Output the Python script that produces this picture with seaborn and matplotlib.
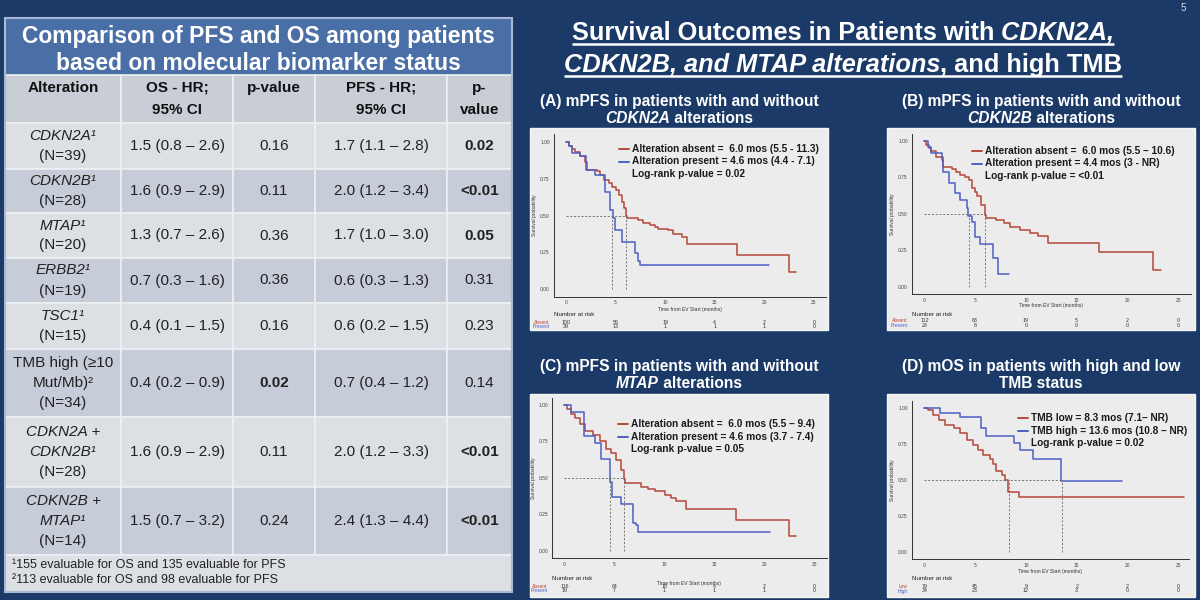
import matplotlib
matplotlib.use("Agg")
import matplotlib.pyplot as plt
from matplotlib.patches import Rectangle
from matplotlib.transforms import blended_transform_factory
from matplotlib import font_manager
import seaborn as sns

sns.set_style("white")
plt.rcParams['font.family'] = ['Liberation Sans', 'DejaVu Sans']

# ---------------- table data ----------------
alt_labels = [
    [("CDKN2A¹", "italic"), ("(N=39)", "normal")],
    [("CDKN2B¹", "italic"), ("(N=28)", "normal")],
    [("MTAP¹", "italic"), ("(N=20)", "normal")],
    [("ERBB2¹", "italic"), ("(N=19)", "normal")],
    [("TSC1¹", "italic"), ("(N=15)", "normal")],
    [("TMB high (≥10", "normal"), ("Mut/Mb)²", "normal"), ("(N=34)", "normal")],
    [("CDKN2A +", "italic"), ("CDKN2B¹", "italic"), ("(N=28)", "normal")],
    [("CDKN2B +", "italic"), ("MTAP¹", "italic"), ("(N=14)", "normal")],
]
os_hr = ["1.5 (0.8 – 2.6)", "1.6 (0.9 – 2.9)", "1.3 (0.7 – 2.6)", "0.7 (0.3 – 1.6)",
         "0.4 (0.1 – 1.5)", "0.4 (0.2 – 0.9)", "1.6 (0.9 – 2.9)", "1.5 (0.7 – 3.2)"]
os_p = ["0.16", "0.11", "0.36", "0.36", "0.16", "0.02", "0.11", "0.24"]
pfs_hr = ["1.7 (1.1 – 2.8)", "2.0 (1.2 – 3.4)", "1.7 (1.0 – 3.0)", "0.6 (0.3 – 1.3)",
          "0.6 (0.2 – 1.5)", "0.7 (0.4 – 1.2)", "2.0 (1.2 – 3.3)", "2.4 (1.3 – 4.4)"]
pfs_p = ["0.02", "<0.01", "0.05", "0.31", "0.23", "0.14", "<0.01", "<0.01"]
headers = [["Alteration"], ["OS - HR;", "95% CI"], ["p-value"], ["PFS - HR;", "95% CI"], ["p-", "value"]]
footnotes = ["¹155 evaluable for OS and 135 evaluable for PFS",
             "²113 evaluable for OS and 98 evaluable for PFS"]

# ---------------- Kaplan-Meier data ----------------
a_absent_t = [0, 0.3, 0.6, 0.9, 1.4, 1.9, 2.1, 3.1, 3.4, 3.8, 4.3, 4.6, 5.0, 5.3, 5.6, 5.8, 6.0, 6.1,
              7.3, 7.8, 8.5, 9.0, 9.3, 10.3, 10.8, 11.7, 12.2, 17.2, 22.5, 23.2]
a_absent_s = [1.0, 0.97, 0.95, 0.93, 0.90, 0.865, 0.81, 0.80, 0.775, 0.74, 0.72, 0.695, 0.67, 0.64,
              0.59, 0.55, 0.50, 0.48, 0.47, 0.45, 0.435, 0.42, 0.41, 0.40, 0.375, 0.357, 0.307,
              0.233, 0.12, 0.12]
a_present_t = [0, 0.3, 0.6, 1.4, 2.0, 2.9, 3.9, 4.4, 4.7, 4.9, 5.6, 7.0, 7.3, 7.5, 20.5]
a_present_s = [1.0, 0.97, 0.92, 0.90, 0.81, 0.775, 0.66, 0.54, 0.48, 0.40, 0.32, 0.245, 0.19, 0.165, 0.165]

b_absent_t = [0, 0.2, 0.5, 0.7, 1.2, 1.8, 2.7, 3.1, 3.5, 4.0, 4.4, 4.7, 5.0, 5.2, 5.6, 6.0, 6.1,
              7.1, 7.8, 8.4, 9.4, 10.4, 11.2, 12.2, 17.2, 22.5, 23.3]
b_absent_s = [1.0, 0.97, 0.95, 0.93, 0.89, 0.82, 0.81, 0.79, 0.77, 0.75, 0.73, 0.675, 0.65, 0.62,
              0.56, 0.49, 0.47, 0.455, 0.435, 0.41, 0.39, 0.37, 0.35, 0.30, 0.235, 0.115, 0.115]
b_present_t = [0, 0.4, 0.7, 1.7, 1.8, 2.4, 3.0, 3.5, 4.2, 4.35, 4.65, 5.0, 5.5, 6.8, 7.3, 8.3]
b_present_s = [1.0, 0.96, 0.92, 0.87, 0.79, 0.71, 0.64, 0.595, 0.54, 0.485, 0.445, 0.34, 0.29,
               0.195, 0.09, 0.09]

c_absent_t = [0, 0.3, 0.7, 1.1, 1.6, 2.1, 2.9, 3.6, 4.2, 4.7, 5.2, 5.7, 6.0, 6.1, 7.7, 8.4, 9.1,
              10.1, 10.7, 11.2, 12.2, 17.2, 22.5, 23.2]
c_absent_s = [1.0, 0.97, 0.94, 0.91, 0.87, 0.82, 0.795, 0.75, 0.70, 0.67, 0.62, 0.555, 0.49, 0.465,
              0.44, 0.425, 0.41, 0.385, 0.36, 0.34, 0.29, 0.215, 0.10, 0.10]
c_present_t = [0, 0.7, 2.0, 3.1, 3.7, 4.6, 4.8, 5.7, 6.9, 7.2, 7.4, 20.6]
c_present_s = [1.0, 0.95, 0.79, 0.74, 0.63, 0.47, 0.37, 0.32, 0.19, 0.18, 0.13, 0.13]

d_low_t = [0, 0.4, 0.9, 1.4, 2.0, 2.9, 3.5, 4.2, 4.8, 5.3, 5.8, 6.5, 6.8, 7.1, 7.6, 7.9, 8.2, 9.3, 25.6]
d_low_s = [1.0, 0.99, 0.955, 0.92, 0.885, 0.86, 0.825, 0.78, 0.745, 0.71, 0.675, 0.65, 0.615,
           0.56, 0.535, 0.50, 0.42, 0.385, 0.385]
d_high_t = [0, 1.5, 3.5, 5.6, 6.1, 8.8, 9.4, 10.7, 13.5, 19.5]
d_high_s = [1.0, 0.97, 0.94, 0.86, 0.81, 0.76, 0.71, 0.65, 0.49, 0.49]

medians = {"A": [4.6, 6.0], "B": [4.4, 6.0], "C": [4.6, 6.0], "D": [8.3, 13.6]}
risk_times = [0, 5, 10, 15, 20, 25]
risk = {
    "A": [[100, 56, 19, 4, 2, 0], [39, 13, 1, 1, 1, 0]],
    "B": [[112, 63, 19, 5, 2, 0], [28, 8, 0, 0, 0, 0]],
    "C": [[116, 64, 18, 4, 2, 0], [19, 7, 1, 1, 1, 0]],
    "D": [[79, 45, 9, 2, 2, 0], [34, 23, 12, 3, 0, 0]],
}
groups = {"A": ["Absent", "Present"], "B": ["Absent", "Present"],
          "C": ["Absent", "Present"], "D": ["Low", "High"]}
legend_txt = {
    "A": ["Alteration absent =  6.0 mos (5.5 - 11.3)", "Alteration present = 4.6 mos (4.4 - 7.1)",
          "Log-rank p-value = 0.02"],
    "B": ["Alteration absent =  6.0 mos (5.5 – 10.6)", "Alteration present = 4.4 mos (3 - NR)",
          "Log-rank p-value = <0.01"],
    "C": ["Alteration absent =  6.0 mos (5.5 – 9.4)", "Alteration present = 4.6 mos (3.7 - 7.4)",
          "Log-rank p-value = 0.05"],
    "D": ["TMB low = 8.3 mos (7.1– NR)", "TMB high = 13.6 mos (10.8 – NR)",
          "Log-rank p-value = 0.02"],
}
subtitles = {
    "A": [[("(A) mPFS in patients with and without", "normal")], [("CDKN2A", "italic"), (" alterations", "normal")]],
    "B": [[("(B) mPFS in patients with and without", "normal")], [("CDKN2B", "italic"), (" alterations", "normal")]],
    "C": [[("(C) mPFS in patients with and without", "normal")], [("MTAP", "italic"), (" alterations", "normal")]],
    "D": [[("(D) mOS in patients with high and low", "normal")], [("TMB status", "normal")]],
}
curves = {
    "A": [(a_absent_t, a_absent_s), (a_present_t, a_present_s)],
    "B": [(b_absent_t, b_absent_s), (b_present_t, b_present_s)],
    "C": [(c_absent_t, c_absent_s), (c_present_t, c_present_s)],
    "D": [(d_low_t, d_low_s), (d_high_t, d_high_s)],
}

# ---------------- styling ----------------
BG = '#1b3a68'
RED = '#b6473a'
BLUE = '#4e5ec4'
LIGHT = '#dcdfe4'
BLUISH = '#c6ccd8'
HEAD = '#c9cdd5'
BAND = '#4a6ea6'
PANEL = '#ececec'

try:
    font_manager.findfont('Liberation Sans Narrow', fallback_to_default=False)
    NARROW = ['Liberation Sans Narrow', 'Liberation Sans', 'DejaVu Sans']
    title_fs, sub_fs = 22, 13.5
except ValueError:
    NARROW = ['Liberation Sans', 'DejaVu Sans']
    title_fs, sub_fs = 18.3, 11.2

fig = plt.figure(figsize=(12, 6), dpi=100, facecolor=BG)
bg = fig.add_axes([0, 0, 1, 1])
bg.set_xlim(0, 1200)
bg.set_ylim(600, 0)
bg.axis('off')
renderer = fig.canvas.get_renderer()


def rich(pieces, cx, y, size, family, color='white', weight='bold', underline=False):
    ts = [bg.text(0, y, s, fontsize=size, family=family, fontweight=weight, fontstyle=st,
                  color=color, va='baseline', ha='left') for s, st in pieces]
    ws = [t.get_window_extent(renderer).width for t in ts]
    x = cx - sum(ws) / 2
    x0 = x
    for t, w in zip(ts, ws):
        t.set_x(x)
        x += w
    if underline:
        bg.plot([x0, x], [y + 3.5, y + 3.5], color=color, lw=1.8, solid_capstyle='butt')


# ---------------- left table ----------------
cols = [5, 121, 233, 315, 447, 512]
rows = [123, 169, 213, 258, 303, 349, 417, 487, 555]
bg.add_patch(Rectangle((5, 18), 507, 57, fc=BAND, ec='none'))
bg.text(258.5, 36, "Comparison of PFS and OS among patients", fontsize=16.5, fontweight='bold',
        color='white', ha='center', va='center')
bg.text(258.5, 63, "based on molecular biomarker status", fontsize=16.5, fontweight='bold',
        color='white', ha='center', va='center')

for j, lines in enumerate(headers):
    bg.add_patch(Rectangle((cols[j], 75), cols[j + 1] - cols[j], 48, fc=HEAD, ec='#eef0f3', lw=1.2))
    cx = (cols[j] + cols[j + 1]) / 2
    for k, ln in enumerate(lines):
        bg.text(cx, 88 + 22 * k, ln, fontsize=11, fontweight='bold', color='#111111',
                ha='center', va='center')


def is_sig(p):
    return p.startswith('<') or float(p) <= 0.05


for i in range(len(alt_labels)):
    top, bot = rows[i], rows[i + 1]
    fc = LIGHT if i % 2 == 0 else BLUISH
    for j in range(5):
        bg.add_patch(Rectangle((cols[j], top), cols[j + 1] - cols[j], bot - top, fc=fc,
                               ec='#eef0f3', lw=1.2))
    cy = (top + bot) / 2
    lines = alt_labels[i]
    n = len(lines)
    for k, (txt, st) in enumerate(lines):
        bg.text(63, cy + (k - (n - 1) / 2) * 20, txt, fontsize=11, fontstyle=st, color='#222222',
                ha='center', va='center')
    vals = [os_hr[i], os_p[i], pfs_hr[i], pfs_p[i]]
    for j, v in enumerate(vals):
        bold = (j in (1, 3)) and is_sig(v)
        bg.text((cols[j + 1] + cols[j + 2]) / 2, cy, v, fontsize=11,
                fontweight='bold' if bold else 'normal', color='#222222', ha='center', va='center')

bg.add_patch(Rectangle((5, 555), 507, 37, fc=LIGHT, ec='#eef0f3', lw=1.2))
for k, ft in enumerate(footnotes):
    bg.text(12, 565 + 15 * k, ft, fontsize=9, color='#222222', ha='left', va='center')
bg.add_patch(Rectangle((5, 18), 507, 574, fill=False, ec='#a9b9d3', lw=1.5))

# ---------------- right side titles ----------------
bg.text(1183, 8, "5", fontsize=7, color='#dddddd', ha='center', va='center')
rich([("Survival Outcomes in Patients with", "normal"), (" CDKN2A,", "italic")],
     843, 40, title_fs, NARROW, underline=True)
rich([("CDKN2B, and MTAP alterations", "italic"), (", and high TMB", "normal")],
     843, 72, title_fs, NARROW, underline=True)

# ---------------- KM panels ----------------
km_panels = [
    dict(key="A", box=(530, 128, 828, 330), ax=(553.6, 134.3, 826.4, 296.7), xlim=(-1.25, 26.25),
         sub_y=(106, 123), xlab_y=310, nar_y=314, risk_y=(322, 327), leg=(619, 149)),
    dict(key="B", box=(887, 128, 1195, 330), ax=(911.6, 133.7, 1191, 294), xlim=(-1.25, 26.25),
         sub_y=(106, 123), xlab_y=305.5, nar_y=314, risk_y=(321, 325.5), leg=(972, 151)),
    dict(key="C", box=(530, 394, 828, 597), ax=(551.8, 397.7, 826.8, 558.3), xlim=(-1.25, 26.25),
         sub_y=(371, 388), xlab_y=583, nar_y=578, risk_y=(586, 590.5), leg=(618, 424)),
    dict(key="D", box=(887, 394, 1195, 597), ax=(911.6, 401.2, 1188.5, 558.9), xlim=(-1.25, 26.0),
         sub_y=(371, 388), xlab_y=571.5, nar_y=578, risk_y=(586, 591), leg=(1018, 418)),
]

for p in km_panels:
    k = p["key"]
    x0, y0, x1, y1 = p["box"]
    bg.add_patch(Rectangle((x0, y0), x1 - x0, y1 - y0, fc=PANEL, ec='#f6f6f6', lw=1))
    cx = (x0 + x1) / 2
    for line, yy in zip(subtitles[k], p["sub_y"]):
        rich(line, cx, yy, sub_fs, NARROW)

    l, t, r, b = p["ax"]
    ax = fig.add_axes([l / 1200, 1 - b / 600, (r - l) / 1200, (b - t) / 600])
    ax.patch.set_alpha(0)
    for (tt, ss), c in zip(curves[k], [RED, BLUE]):
        sns.lineplot(x=tt, y=ss, drawstyle='steps-post', color=c, linewidth=1.1, ax=ax,
                     estimator=None, sort=False)
    med = medians[k]
    ax.plot([0, max(med)], [0.5, 0.5], color='#666666', lw=0.6, ls=(0, (2.5, 2)))
    for m in med:
        ax.plot([m, m], [0, 0.5], color='#666666', lw=0.6, ls=(0, (2.5, 2)))
    ax.set_xlim(*p["xlim"])
    ax.set_ylim(-0.05, 1.05)
    ax.set_xticks(risk_times)
    ax.set_yticks([0, 0.25, 0.5, 0.75, 1.0])
    ax.set_yticklabels(["0.00", "0.25", "0.50", "0.75", "1.00"])
    ax.tick_params(labelsize=3.5, length=1.5, width=0.5, pad=1.2, colors='#444444')
    ax.set_xlabel("")
    ax.set_ylabel("Survival probability", fontsize=3.5, labelpad=2, color='#333333')
    for s in ("top", "right"):
        ax.spines[s].set_visible(False)
    for s in ("left", "bottom"):
        ax.spines[s].set_color('#333333')
        ax.spines[s].set_linewidth(0.7)

    bg.text((l + r) / 2, p["xlab_y"], "Time from EV Start (months)", fontsize=3.6,
            color='#333333', ha='center', va='center')
    bg.text(l, p["nar_y"], "Number at risk", fontsize=4.5, color='#222222', ha='left', va='center')
    tr = blended_transform_factory(ax.transData, bg.transData)
    for g, c, yy, counts in zip(groups[k], [RED, BLUE], p["risk_y"], risk[k]):
        bg.text(l - 4, yy, g, fontsize=3.5, color=c, ha='right', va='center')
        for tx, n in zip(risk_times, counts):
            bg.text(tx, yy, str(n), transform=tr, fontsize=3.8, color='#333333',
                    ha='center', va='center')

    lx, ly = p["leg"]
    for i, txt in enumerate(legend_txt[k]):
        yy = ly + 12.5 * i
        if i < 2:
            bg.plot([lx, lx + 10], [yy, yy], color=[RED, BLUE][i], lw=1.4)
        bg.text(lx + 13, yy, txt, fontsize=7.3, fontweight='bold', color='#1a1a1a',
                ha='left', va='center')

fig.savefig("out.png", dpi=100, facecolor=BG)
